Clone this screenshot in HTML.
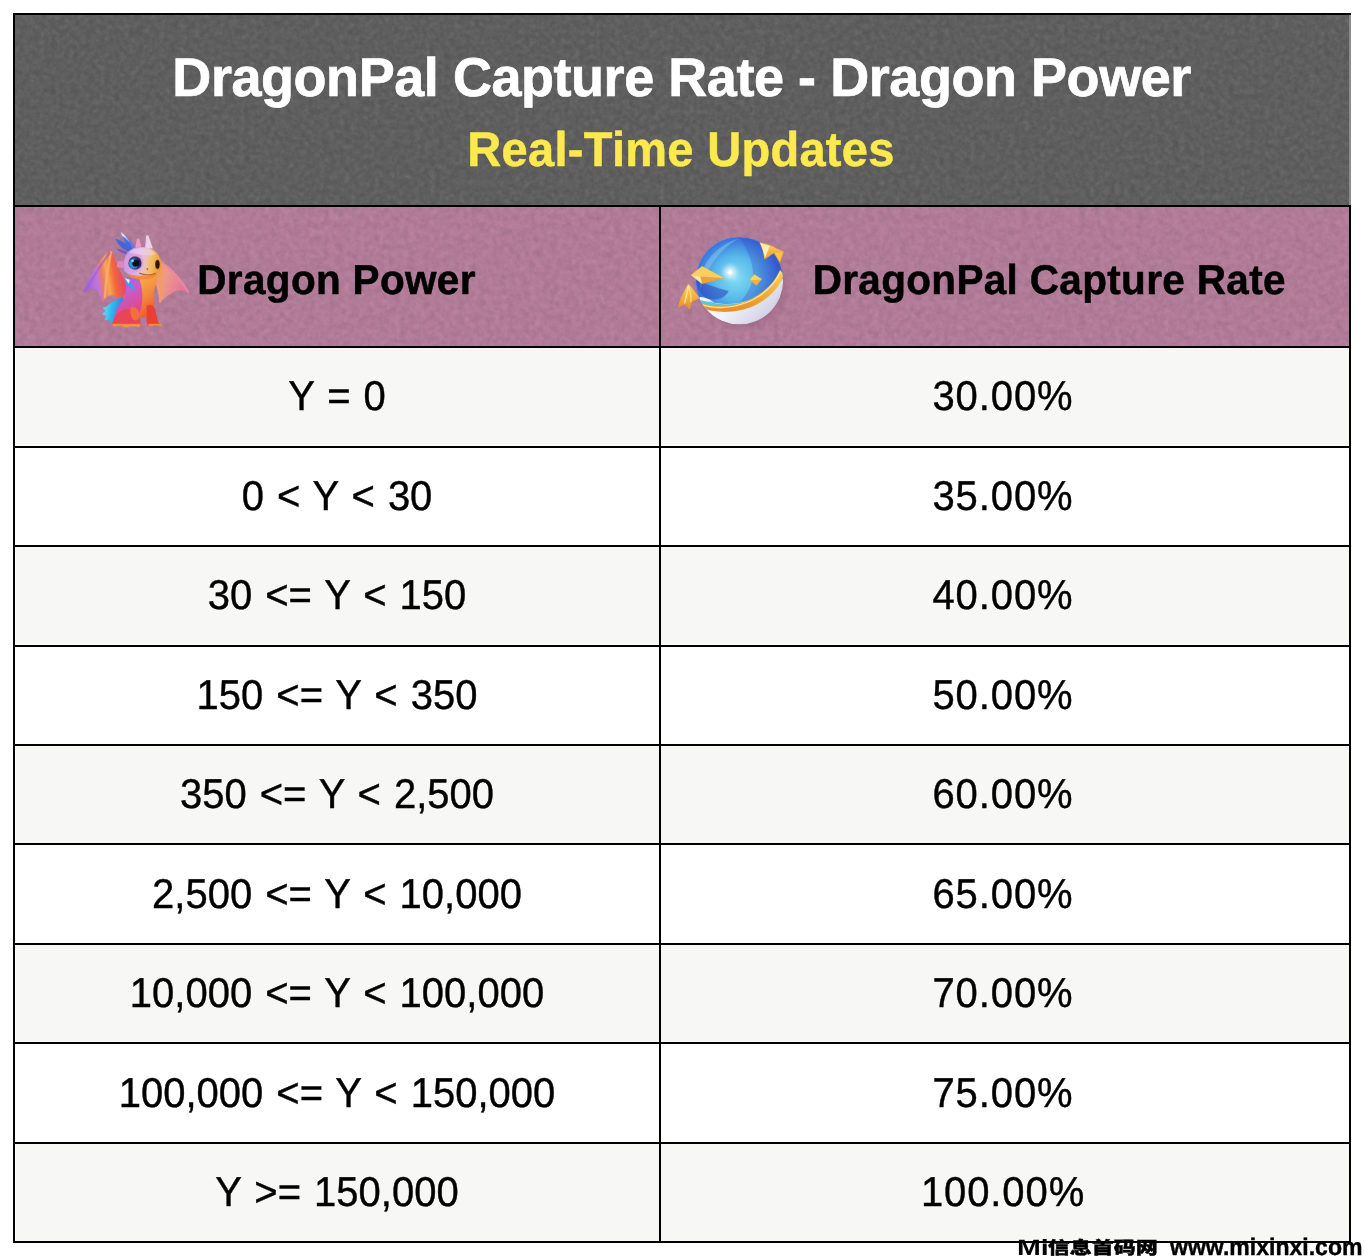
<!DOCTYPE html>
<html lang="en">
<head>
<meta charset="utf-8">
<title>DragonPal Capture Rate - Dragon Power</title>
<style>
  html, body { margin: 0; padding: 0; }
  body {
    width: 1364px; height: 1258px; position: relative; overflow: hidden;
    background: #ffffff;
    font-family: "Liberation Sans", "Noto Sans CJK SC", sans-serif;
    color: #000;
    text-rendering: geometricPrecision;
  }
  .abs { position: absolute; }
  .fill { position: absolute; left: 15px; width: 1334px; }
  .hl { position: absolute; left: 13px; width: 1338px; height: 2px; background: #000; }
  .vl { position: absolute; width: 2px; background: #000; }
  .title {
    transform-origin: 50% 80%;
    position: absolute; left: 15px; width: 1334px; text-align: center;
    font-weight: bold; white-space: nowrap;
  }
  .cell {
    position: absolute; text-align: center; white-space: nowrap;
    font-size: 40px; line-height: 46px; height: 46px;
    top: calc(374.35px + var(--i) * 99.5px);
    word-spacing: 1.9px;
    -webkit-text-stroke: 0.4px #000;
    transform: scaleY(1.042); transform-origin: 50% 36.85px;
  }
  .c1 { left: 15px; width: 644px; }
  .c2 { left: 659px; width: 688px; letter-spacing: 0.9px; }
  .hd { position: absolute; font-weight: bold; font-size: 40.5px; line-height: 46px; white-space: nowrap; letter-spacing: 0.33px; -webkit-text-stroke: 0.5px #000; transform: scaleY(1.028); transform-origin: 0 80%; }
  .wm {
    position: absolute; white-space: nowrap; font-weight: bold;
    font-family: "Liberation Sans", "Noto Sans CJK SC", sans-serif;
  }
</style>
</head>
<body>

<!-- backgrounds -->
<div class="fill" id="bg-head" style="top:15px;height:191px;background:#5d5d5d;"></div>
<div class="fill" id="bg-sub" style="top:207px;height:140px;background:#b37b99;"></div>
<div class="fill" style="left:16px;width:1333px;top:348px;height:97px;background:#f7f7f5;"></div>
<div class="fill" style="left:16px;width:1333px;top:547px;height:97px;background:#f7f7f5;"></div>
<div class="fill" style="left:16px;width:1333px;top:746px;height:97px;background:#f7f7f5;"></div>
<div class="fill" style="left:16px;width:1333px;top:945px;height:97px;background:#f7f7f5;"></div>
<div class="fill" style="left:16px;width:1333px;top:1144px;height:97px;background:#f7f7f5;"></div>

<!-- paper texture -->
<svg class="abs" style="left:15px;top:15px;" width="1334" height="332">
  <filter id="paper" x="0" y="0" width="100%" height="100%">
    <feTurbulence type="fractalNoise" baseFrequency="0.2" numOctaves="3" seed="7"/>
    <feColorMatrix type="matrix" values="0 0 0 0 1  0 0 0 0 1  0 0 0 0 1  0.11 0.11 0 0 -0.085"/>
  </filter>
  <filter id="paperd" x="0" y="0" width="100%" height="100%">
    <feTurbulence type="fractalNoise" baseFrequency="0.14" numOctaves="3" seed="23"/>
    <feColorMatrix type="matrix" values="0 0 0 0 0  0 0 0 0 0  0 0 0 0 0  0.1 0.1 0 0 -0.075"/>
  </filter>
  <rect width="1334" height="332" filter="url(#paper)"/>
  <rect width="1334" height="332" filter="url(#paperd)"/>
</svg>

<!-- grid lines -->
<div class="hl" style="top:13px;"></div>
<div class="hl" style="top:205px;"></div>
<div class="hl" style="top:346px;"></div>
<div class="hl" style="top:446px;"></div>
<div class="hl" style="top:545px;"></div>
<div class="hl" style="top:645px;"></div>
<div class="hl" style="top:744px;"></div>
<div class="hl" style="top:843px;"></div>
<div class="hl" style="top:943px;"></div>
<div class="hl" style="top:1042px;"></div>
<div class="hl" style="top:1142px;"></div>
<div class="hl" style="top:1241px;"></div>
<div class="vl" style="left:13px;top:13px;height:1230px;"></div>
<div class="vl" style="left:659px;top:205px;height:1038px;"></div>
<div class="vl" style="left:1349px;top:205px;height:1038px;"></div>
<div class="vl" style="left:1349px;top:15px;height:190px;background:#8a8a8a;"></div>

<!-- titles -->
<div class="title" style="left:14.6px;top:48px;font-size:54px;line-height:60px;color:#fff;-webkit-text-stroke:0.7px #fff;letter-spacing:-0.45px;transform:scaleY(1.01);">DragonPal Capture Rate - Dragon Power</div>
<div class="title" style="left:14px;top:122.8px;font-size:47px;line-height:54px;color:#fbe94e;-webkit-text-stroke:0.5px #fbe94e;letter-spacing:0.3px;transform:scaleY(1.036);">Real-Time Updates</div>

<!-- ICON-DRAGON -->
<svg class="abs" id="dragon" style="left:75px;top:225px;" width="125" height="110" viewBox="0 0 1364 1200">
  <defs>
    <filter id="dblur" x="-5%" y="-5%" width="110%" height="110%"><feGaussianBlur stdDeviation="5"/></filter>
    <linearGradient id="lw" gradientUnits="userSpaceOnUse" x1="85" y1="600" x2="600" y2="520">
      <stop offset="0" stop-color="#9a62dc"/><stop offset="0.3" stop-color="#c274dc"/>
      <stop offset="0.42" stop-color="#ee7e62"/><stop offset="0.52" stop-color="#f9a652"/><stop offset="0.66" stop-color="#f2683c"/>
      <stop offset="0.85" stop-color="#e5486a"/><stop offset="1" stop-color="#cf4a90"/>
    </linearGradient>
    <linearGradient id="rw" x1="0" y1="0" x2="1" y2="0.4">
      <stop offset="0" stop-color="#f29a58"/><stop offset="0.4" stop-color="#f09a88"/>
      <stop offset="1" stop-color="#e2709e"/>
    </linearGradient>
    <linearGradient id="hd" x1="0" y1="0" x2="1" y2="0.15">
      <stop offset="0" stop-color="#b98cec"/><stop offset="0.4" stop-color="#d6b4f0"/>
      <stop offset="0.62" stop-color="#ecc0c4"/><stop offset="0.78" stop-color="#f3c064"/><stop offset="1" stop-color="#ee9e38"/>
    </linearGradient>
    <linearGradient id="chest" x1="0" y1="0" x2="0.3" y2="1">
      <stop offset="0" stop-color="#f9b445"/><stop offset="0.5" stop-color="#f48a3c"/>
      <stop offset="1" stop-color="#ec4a34"/>
    </linearGradient>
    <linearGradient id="back" x1="0" y1="0" x2="0.4" y2="1">
      <stop offset="0" stop-color="#8c6be0"/><stop offset="0.4" stop-color="#c45fd0"/>
      <stop offset="1" stop-color="#e8417a"/>
    </linearGradient>
    <linearGradient id="tail" x1="0" y1="0" x2="1" y2="0.2">
      <stop offset="0" stop-color="#7fe9f6"/><stop offset="0.5" stop-color="#2fb9ee"/>
      <stop offset="1" stop-color="#3b74e4"/>
    </linearGradient>
    <linearGradient id="frill" x1="0" y1="0" x2="1" y2="1">
      <stop offset="0" stop-color="#7b8df0"/><stop offset="0.5" stop-color="#3a6fe2"/>
      <stop offset="1" stop-color="#5a55c8"/>
    </linearGradient>
  </defs>
  <g filter="url(#dblur)">
    <!-- left wing -->
    <path d="M395 272 C300 330 170 520 85 745 C150 690 215 690 250 720 C270 770 290 810 312 850 C330 790 370 760 420 765 C450 790 480 800 520 790 L580 700 C520 560 440 400 395 272Z" fill="url(#lw)"/>
    <path d="M395 285 C360 450 330 640 325 800" stroke="#f8b070" stroke-width="26" fill="none" opacity=".8"/>
    <path d="M380 300 C290 420 200 560 120 720" stroke="#9a62d2" stroke-width="22" fill="none" opacity=".7"/>
    <!-- right wing -->
    <path d="M925 385 C1020 440 1160 560 1255 750 C1200 715 1130 700 1085 725 C1020 760 960 800 922 858 C915 780 900 700 880 640 L860 560Z" fill="url(#rw)"/>
    <path d="M930 395 C1030 470 1150 590 1240 735" stroke="#e98aa8" stroke-width="24" fill="none" opacity=".9"/>
    <path d="M935 470 C950 600 945 730 925 840" stroke="#f4a050" stroke-width="22" fill="none" opacity=".85"/>
    <!-- tail -->
    <path d="M520 790 C440 810 380 850 345 890 L300 905 L335 935 L295 975 L340 990 L320 1040 L375 1035 L395 1080 L440 1040 C480 1000 520 930 540 860Z" fill="url(#tail)"/>
    <!-- back body -->
    <path d="M555 585 C610 555 700 575 745 640 C775 760 740 900 710 1000 L660 1075 L420 1075 C420 1000 450 900 520 830 C560 760 558 680 555 585Z" fill="url(#back)"/>
    <path d="M548 585 C600 600 640 650 650 720 C620 700 585 670 560 640Z" fill="#3f9cec"/>
    <path d="M545 580 L600 600 L585 640Z" fill="#e9f6ff"/>
    <!-- chest / front -->
    <path d="M700 545 C760 560 850 560 900 545 C895 620 875 680 855 740 C872 840 866 930 850 1000 L880 1085 L790 1085 L770 1000 C745 1010 715 1010 690 1000 C735 900 750 780 722 660 C708 620 702 580 700 545Z" fill="url(#chest)"/>
    <!-- legs -->
    <path d="M780 880 C820 860 870 880 880 940 L905 1060 L935 1090 L790 1095 Z" fill="#ea3f33"/>
    <path d="M520 930 C590 900 680 930 700 1000 L720 1095 L400 1095 C420 1020 460 960 520 930Z" fill="#e84457"/>
    <path d="M610 900 C660 880 720 930 700 1010 C680 1050 640 1050 620 1010 C600 970 600 930 610 900Z" fill="#f2713a"/>
    <path d="M400 1080 L720 1080 L700 1115 L610 1100 L560 1120 L500 1098 L420 1105Z" fill="#f79a35"/>
    <path d="M790 1078 L940 1078 L950 1100 L880 1092 L820 1105Z" fill="#f79a35"/>
    <!-- frill / horns -->
    <path d="M640 305 C560 300 480 240 440 150 C500 170 560 200 620 250Z" fill="#4a62d8"/>
    <path d="M650 300 C580 260 520 170 500 78 C560 120 610 190 650 260Z" fill="url(#frill)"/>
    <path d="M655 300 C620 250 590 200 590 150 C620 180 650 230 665 280Z" fill="#6a78e6"/>
    <path d="M500 78 C540 100 575 150 600 200 C580 170 545 130 515 120Z" fill="#eceafd"/>
    <path d="M560 318 C520 310 480 290 450 255 C500 265 540 280 580 300Z" fill="#7a52c4"/>
    <path d="M775 118 L800 112 L850 255 L765 262Z" fill="#ead0ea"/>
    <path d="M675 150 L700 150 L725 235 L660 245Z" fill="#ef9cc4"/>
    <path d="M470 390 L530 400 L530 470 L455 460Z" fill="#e88cc2" opacity=".8"/>
    <!-- head -->
    <path d="M540 380 C550 270 660 225 770 245 C880 260 940 340 945 440 C945 520 890 560 800 565 C700 572 600 560 545 510 C520 480 530 420 540 380Z" fill="url(#hd)"/>
    
    <path d="M580 535 C680 560 800 565 900 530 C880 580 780 600 690 590 C640 585 600 565 580 535Z" fill="#f18a3a"/>
    <path d="M700 525 C760 550 830 548 880 528" stroke="#b4502a" stroke-width="12" fill="none"/>
    <ellipse cx="640" cy="410" rx="105" ry="110" fill="#e39ad8" opacity=".75"/>
    <path d="M590 300 C640 235 800 235 880 310 C860 340 800 330 740 325 C690 320 640 320 590 300Z" fill="#f0d4f0" opacity=".6"/>
    <!-- eyes -->
    <circle cx="655" cy="415" r="72" fill="#24306e"/>
    <circle cx="645" cy="420" r="56" fill="#1f9bd8"/>
    <circle cx="665" cy="415" r="40" fill="#0a0d1c"/>
    <circle cx="628" cy="392" r="14" fill="#9fe7ff"/>
    <ellipse cx="900" cy="430" rx="24" ry="50" fill="#2a1210"/>
    <circle cx="790" cy="480" r="10" fill="#d23a4a"/>
  </g>
</svg>
<!-- /ICON-DRAGON -->

<!-- ICON-BALL -->
<svg class="abs" id="ball" style="left:670px;top:225px;" width="125" height="110" viewBox="0 0 1364 1200">
  <defs>
    <filter id="bblur" x="-5%" y="-5%" width="110%" height="110%"><feGaussianBlur stdDeviation="5"/></filter>
    <filter id="bblur2" x="-30%" y="-30%" width="160%" height="160%"><feGaussianBlur stdDeviation="28"/></filter>
    <clipPath id="sph"><circle cx="757" cy="608" r="478"/></clipPath>
    <radialGradient id="blue" cx="720" cy="580" r="540" gradientUnits="userSpaceOnUse">
      <stop offset="0" stop-color="#86def2"/><stop offset="0.45" stop-color="#56b8ea"/>
      <stop offset="0.78" stop-color="#3a78de"/><stop offset="1" stop-color="#2f45c0"/>
    </radialGradient>
    <linearGradient id="white" x1="0" y1="0" x2="1" y2="1">
      <stop offset="0" stop-color="#ffffff"/><stop offset="0.6" stop-color="#f4f4fb"/>
      <stop offset="1" stop-color="#bfc0dc"/>
    </linearGradient>
    <linearGradient id="gold" x1="0" y1="0" x2="0" y2="1">
      <stop offset="0" stop-color="#fbd560"/><stop offset="0.5" stop-color="#f3b23a"/>
      <stop offset="1" stop-color="#e58f28"/>
    </linearGradient>
  </defs>
  <ellipse cx="800" cy="680" rx="480" ry="450" fill="#8f5a7c" opacity=".35" filter="url(#bblur2)"/>
  <g filter="url(#bblur)">
    <!-- left wing -->
    <path d="M200 642 C250 700 290 750 325 800 C290 810 255 825 232 845 C228 870 222 900 212 925 C195 900 178 880 158 862 C135 875 112 890 88 905 C105 810 150 720 200 642Z" fill="url(#gold)"/>
    <path d="M200 660 C190 740 175 800 158 855" stroke="#fdeaa0" stroke-width="16" fill="none"/>
    <path d="M205 660 C225 730 232 790 230 840" stroke="#fce08a" stroke-width="14" fill="none"/>
    <g clip-path="url(#sph)">
      <circle cx="757" cy="608" r="478" fill="url(#white)"/>
      <!-- blue cap -->
      <path d="M200 100 L1300 100 L1300 480 C1180 700 1000 800 760 850 C600 880 430 850 320 790 L200 700Z" fill="url(#blue)"/>
      <path d="M760 140 C1000 150 1180 330 1200 520 C1100 700 950 790 760 840 C900 700 1000 500 760 140Z" fill="#3a3fc0" opacity=".28"/>
      <path d="M330 700 C300 520 430 250 740 150 C500 300 400 500 330 700Z" fill="#9fd4f6" opacity=".4"/>
      <path d="M285 600 C300 700 330 760 400 800 C520 830 600 800 640 720 C560 700 420 660 285 600Z" fill="#2f3fba" opacity=".55"/>
      <!-- cyan strip -->
      <path d="M325 790 C430 850 600 885 770 850 L770 900 C600 920 430 900 325 850Z" fill="#5fc3e6"/>
      <path d="M325 785 C380 790 440 810 470 840 C420 840 370 830 325 815Z" fill="#eef8ff"/>
      <!-- gold band -->
      <path d="M325 845 C480 905 700 900 900 800 C1050 720 1150 610 1200 490 L1245 540 C1190 690 1080 800 930 875 C720 975 480 960 320 900Z" fill="url(#gold)"/>
      <path d="M330 862 C480 920 700 915 905 815 C1050 740 1150 630 1205 510" stroke="#fde79a" stroke-width="14" fill="none"/>
      <!-- highlight -->
      <circle cx="655" cy="515" r="70" fill="#ffffff" opacity=".75" filter="url(#bblur2)"/>
      <circle cx="655" cy="515" r="26" fill="#ffffff"/>
    </g>
    <!-- right wing -->
    <path d="M975 188 L1095 222 L1240 290 L1200 420 L1135 305 L1030 378 C1020 300 1000 240 975 188Z" fill="url(#gold)"/>
    <path d="M985 198 L1088 228 L1035 365 C1025 300 1008 245 985 198Z" fill="#fdeeb4"/>
    <path d="M1140 300 L1228 300 L1198 400Z" fill="#f9c84e"/>
    <!-- big crystal -->
    <path d="M228 545 L350 450 L592 580 L350 642Z" fill="#eea235"/>
    <path d="M228 545 L350 450 L592 580 L330 560Z" fill="#f9cf62"/>
    <path d="M228 545 L330 560 L350 642Z" fill="#fde9a6"/>
    <!-- small crystal -->
    <path d="M868 600 L920 538 L1002 590 L942 662Z" fill="#f3b13c"/>
    <path d="M868 600 L920 538 L1002 590 L930 600Z" fill="#fbd568"/>
  </g>
</svg>
<!-- /ICON-BALL -->

<!-- column headers -->
<div class="hd" style="left:197.3px;top:257.3px;">Dragon Power</div>
<div class="hd" style="left:812.7px;top:257.3px;">DragonPal Capture Rate</div>

<!-- rows -->
<div class="cell c1" style="--i:0">Y = 0</div>
<div class="cell c2" style="--i:0">30.00%</div>
<div class="cell c1" style="--i:1">0 &lt; Y &lt; 30</div>
<div class="cell c2" style="--i:1">35.00%</div>
<div class="cell c1" style="--i:2">30 &lt;= Y &lt; 150</div>
<div class="cell c2" style="--i:2">40.00%</div>
<div class="cell c1" style="--i:3">150 &lt;= Y &lt; 350</div>
<div class="cell c2" style="--i:3">50.00%</div>
<div class="cell c1" style="--i:4">350 &lt;= Y &lt; 2,500</div>
<div class="cell c2" style="--i:4">60.00%</div>
<div class="cell c1" style="--i:5">2,500 &lt;= Y &lt; 10,000</div>
<div class="cell c2" style="--i:5">65.00%</div>
<div class="cell c1" style="--i:6">10,000 &lt;= Y &lt; 100,000</div>
<div class="cell c2" style="--i:6">70.00%</div>
<div class="cell c1" style="--i:7">100,000 &lt;= Y &lt; 150,000</div>
<div class="cell c2" style="--i:7">75.00%</div>
<div class="cell c1" style="--i:8">Y &gt;= 150,000</div>
<div class="cell c2" style="--i:8">100.00%</div>

<!-- watermark -->
<div class="wm" id="wm1" style="left:1017.4px;top:1231.7px;font-size:22px;line-height:28px;font-weight:900;"><span style="display:inline-block;font-weight:bold;position:relative;top:2.6px;transform-origin:0 80%;transform:scale(1.3,1);margin-right:5.8px;">Mi</span><span style="display:inline-block;transform-origin:0 100%;transform:scale(1,0.8);-webkit-text-stroke:0.5px #000;">信息首码网</span></div>
<div class="wm" id="wm2" style="-webkit-text-stroke:0.4px #000;left:1170px;top:1233.5px;font-size:24px;line-height:28px;transform-origin:0 100%;transform:scale(0.96,1);">www.mixinxi.com</div>

</body>
</html>
